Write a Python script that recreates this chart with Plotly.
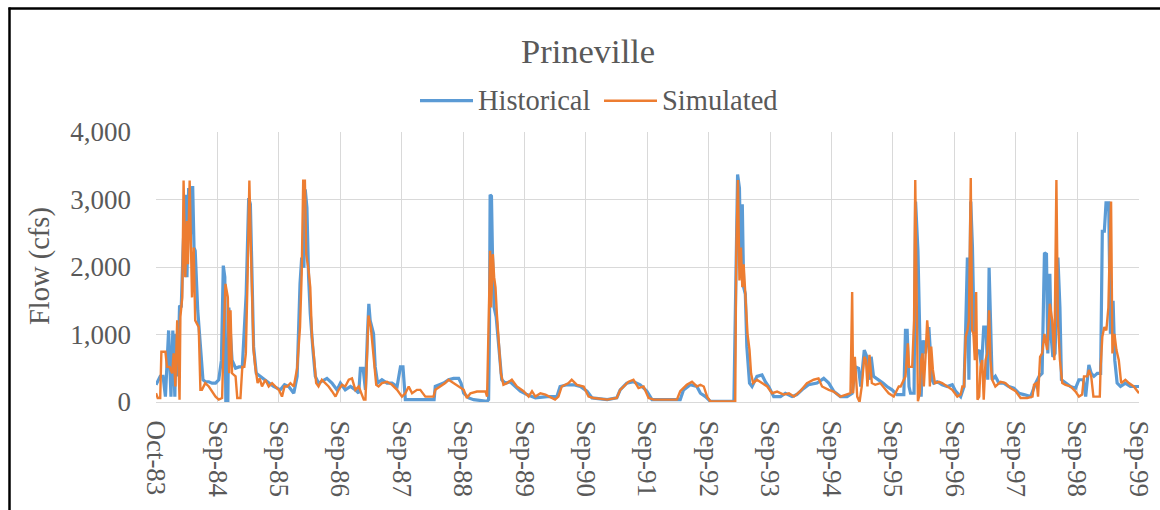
import pandas as pd
import plotly.graph_objects as go

# ---------------------------------------------------------------- data
title_text = "Prineville"
hist_name = "Historical"
sim_name = "Simulated"
y_title = "Flow (cfs)"
y_ticks = [0, 1000, 2000, 3000, 4000]
x_tick_labels = ["Oct-83", "Sep-84", "Sep-85", "Sep-86", "Sep-87", "Sep-88",
                 "Sep-89", "Sep-90", "Sep-91", "Sep-92", "Sep-93", "Sep-94",
                 "Sep-95", "Sep-96", "Sep-97", "Sep-98", "Sep-99"]

hist_dates = [
    "1983-10-01", "1983-10-26", "1983-11-12", "1983-11-26", "1983-12-15", "1983-12-29",
    "1984-01-09", "1984-01-21", "1984-01-28", "1984-02-08", "1984-02-18", "1984-02-28",
    "1984-03-09", "1984-03-23", "1984-04-02", "1984-04-12", "1984-04-22", "1984-05-06",
    "1984-05-14", "1984-05-21", "1984-06-05", "1984-06-21", "1984-07-06", "1984-07-20",
    "1984-08-10", "1984-08-29", "1984-09-19",
    "1984-10-08", "1984-10-24", "1984-11-04", "1984-11-13", "1984-11-19", "1984-12-01",
    "1984-12-07", "1984-12-17", "1984-12-26", "1985-01-16", "1985-02-05", "1985-02-25",
    "1985-03-20", "1985-04-04", "1985-04-14", "1985-04-23", "1985-05-03", "1985-05-19",
    "1985-06-12", "1985-07-02", "1985-08-01", "1985-08-30",
    "1985-10-09", "1985-11-03", "1985-11-28", "1985-12-28", "1986-01-17", "1986-02-03",
    "1986-02-13", "1986-02-26", "1986-03-06", "1986-03-16", "1986-03-26", "1986-04-05",
    "1986-04-21", "1986-05-05", "1986-05-24", "1986-06-23", "1986-07-13", "1986-08-12",
    "1986-09-11",
    "1986-10-01", "1986-10-30", "1986-11-30", "1986-12-29", "1987-01-18", "1987-01-28",
    "1987-02-13", "1987-02-27", "1987-03-11", "1987-03-19", "1987-03-27", "1987-04-16",
    "1987-04-26", "1987-05-10", "1987-06-05", "1987-07-05", "1987-08-04", "1987-09-03",
    "1987-09-23",
    "1987-10-08", "1987-10-22", "1988-04-10", "1988-04-17", "1988-05-16", "1988-06-06",
    "1988-07-05", "1988-08-04", "1988-09-03", "1988-09-17",
    "1988-10-03", "1988-11-02", "1988-12-01", "1989-02-19", "1989-02-28", "1989-03-05",
    "1989-03-09", "1989-03-17", "1989-03-23", "1989-04-02", "1989-04-14", "1989-04-24",
    "1989-05-04", "1989-05-17", "1989-06-07", "1989-07-06", "1989-08-06", "1989-09-05",
    "1989-10-14", "1989-12-03", "1990-02-11", "1990-04-10", "1990-04-29", "1990-06-09",
    "1990-07-18", "1990-08-27",
    "1990-10-06", "1990-11-05", "1991-02-03", "1991-04-01", "1991-04-21", "1991-05-30",
    "1991-07-09", "1991-08-18", "1991-09-27",
    "1991-10-27", "1992-04-12", "1992-05-02", "1992-06-11", "1992-07-20", "1992-08-10",
    "1992-09-09",
    "1992-10-08", "1993-02-25", "1993-03-19", "1993-03-30", "1993-04-08", "1993-04-16",
    "1993-04-24", "1993-05-04", "1993-05-13", "1993-05-29", "1993-06-13", "1993-07-12",
    "1993-08-11", "1993-08-31", "1993-09-20",
    "1993-10-20", "1993-11-29", "1993-12-28", "1994-02-06", "1994-03-06", "1994-04-06",
    "1994-05-15", "1994-07-04", "1994-08-13", "1994-09-12",
    "1994-10-11", "1994-11-20", "1994-12-30", "1995-01-29", "1995-02-18", "1995-03-08",
    "1995-03-21", "1995-04-11", "1995-04-27", "1995-05-12", "1995-05-22", "1995-06-05",
    "1995-07-05", "1995-07-31", "1995-08-24", "1995-09-23",
    "1995-10-22", "1995-11-13", "1995-12-02", "1995-12-12", "1995-12-22", "1996-01-02",
    "1996-01-11", "1996-02-01", "1996-02-10", "1996-02-24", "1996-03-04", "1996-03-14",
    "1996-03-26", "1996-04-09", "1996-04-29", "1996-05-09", "1996-05-18", "1996-05-28",
    "1996-06-17", "1996-07-17", "1996-08-16", "1996-09-15",
    "1996-10-05", "1996-11-04", "1996-11-24", "1996-12-04", "1996-12-14", "1996-12-23",
    "1997-01-03", "1997-01-13", "1997-01-23", "1997-02-08", "1997-02-22", "1997-03-08",
    "1997-03-21", "1997-04-04", "1997-04-14", "1997-04-22", "1997-04-30", "1997-05-10",
    "1997-05-29", "1997-06-19", "1997-07-18", "1997-08-17", "1997-09-16",
    "1997-10-16", "1997-11-15", "1997-12-25", "1998-01-24", "1998-02-13", "1998-03-03",
    "1998-03-17", "1998-03-29", "1998-04-06", "1998-04-18", "1998-04-26", "1998-05-06",
    "1998-05-19", "1998-06-05", "1998-06-17", "1998-06-26", "1998-07-20", "1998-08-19",
    "1998-09-18",
    "1998-10-08", "1998-11-03", "1998-11-17", "1998-11-27", "1998-12-06", "1998-12-20",
    "1999-01-05", "1999-01-25", "1999-02-14", "1999-02-24", "1999-03-08", "1999-03-18",
    "1999-04-03", "1999-04-13", "1999-04-29", "1999-05-09", "1999-05-23", "1999-06-12",
    "1999-07-11", "1999-08-10", "1999-09-30",
]
hist_cfs = [
    255, 380, 380, 80, 1060, 80,
    1060, 80, 1010, 380, 1430, 1400,
    2190, 3070, 1850, 3170, 2440, 3200,
    2290, 2240, 1360, 770, 330, 300,
    300, 280, 280,
    330, 620, 2020, 1850, 0, 0,
    1400, 915, 620, 500, 520, 520,
    1600, 3020, 2930, 1950, 820, 425,
    380, 330, 280, 230,
    180, 255, 230, 130, 380, 1750,
    2140, 1990, 3150, 2880, 1850, 1310,
    770, 380, 280, 330, 350, 280,
    180,
    280, 180, 230, 180, 130, 500,
    500, 180, 1010, 1455, 1210, 1010,
    520, 280, 330, 280, 280, 230,
    520,
    520, 35, 35, 230, 255, 280,
    330, 350, 350, 280,
    130, 60, 35, 10, 35, 1010,
    3070, 3050, 2190, 1400, 1260, 965,
    720, 330, 280, 300, 230, 160,
    110, 60, 80, 80, 230, 255,
    255, 230,
    160, 60, 35, 60, 180, 280,
    300, 255, 160,
    35, 35, 180, 255, 230, 130,
    80,
    10, 10, 3370, 3170, 1850, 2930,
    1700, 1600, 820, 280, 230, 380,
    400, 300, 230,
    80, 80, 130, 80, 110, 180,
    255, 280, 350, 280,
    160, 80, 80, 130, 520, 500,
    230, 770, 670, 330, 670, 380,
    330, 280, 230, 180,
    110, 110, 110, 1060, 1060, 230,
    130, 130, 2970, 2240, 965, 80,
    915, 720, 1110, 720, 330, 280,
    300, 255, 230, 255,
    160, 80, 230, 1110, 2140, 330,
    2970, 2290, 1010, 720, 770, 520,
    1110, 1110, 330, 1990, 1210, 330,
    380, 280, 280, 230, 205,
    130, 110, 80, 280, 380, 425,
    2210, 2190, 720, 1900, 965, 670,
    720, 2140, 1400, 330, 280, 230,
    205,
    330, 330, 80, 330, 550, 425,
    380, 425, 425, 2530, 2530, 2950,
    2950, 1010, 1500, 620, 280, 230,
    280, 230, 230,
]

sim_dates = [
    "1983-10-01", "1983-10-11", "1983-10-26", "1983-11-02", "1983-11-26", "1983-12-05",
    "1983-12-21", "1984-01-05", "1984-01-14", "1984-01-24", "1984-02-04", "1984-02-18",
    "1984-02-23", "1984-03-05", "1984-03-13", "1984-03-23", "1984-04-02", "1984-04-08",
    "1984-04-18", "1984-04-26", "1984-05-02", "1984-05-12", "1984-05-21", "1984-06-11",
    "1984-06-21", "1984-06-30", "1984-07-20", "1984-08-10", "1984-08-29", "1984-09-19",
    "1984-10-08", "1984-10-28", "1984-11-08", "1984-11-17", "1984-12-01", "1984-12-09",
    "1984-12-17", "1984-12-26", "1985-01-16", "1985-01-26", "1985-02-14", "1985-02-25",
    "1985-03-09", "1985-03-18", "1985-03-28", "1985-04-08", "1985-04-17", "1985-05-03",
    "1985-05-13", "1985-05-27", "1985-06-08", "1985-06-22", "1985-07-12", "1985-08-01",
    "1985-08-21", "1985-09-10", "1985-09-30",
    "1985-10-19", "1985-11-03", "1985-11-19", "1985-12-08", "1985-12-28", "1986-01-17",
    "1986-02-03", "1986-02-13", "1986-02-22", "1986-03-04", "1986-03-12", "1986-03-26",
    "1986-04-05", "1986-04-15", "1986-04-25", "1986-05-10", "1986-05-24", "1986-06-13",
    "1986-07-03", "1986-07-23", "1986-08-12", "1986-09-02", "1986-09-21",
    "1986-10-11", "1986-10-30", "1986-11-20", "1986-12-09", "1986-12-29", "1987-01-18",
    "1987-02-07", "1987-02-17", "1987-02-27", "1987-03-07", "1987-03-17", "1987-03-31",
    "1987-04-10", "1987-04-20", "1987-05-02", "1987-05-16", "1987-06-05", "1987-07-05",
    "1987-08-04", "1987-09-03",
    "1987-10-02", "1987-10-22", "1987-11-11", "1987-12-01", "1987-12-30", "1988-01-19",
    "1988-02-18", "1988-04-07", "1988-04-17", "1988-05-16", "1988-06-15", "1988-07-05",
    "1988-08-04", "1988-09-03",
    "1988-10-03", "1988-10-22", "1988-11-12", "1988-12-21", "1989-02-10", "1989-02-19",
    "1989-02-28", "1989-03-09", "1989-03-15", "1989-03-25", "1989-04-02", "1989-04-10",
    "1989-04-18", "1989-04-30", "1989-05-12", "1989-05-27", "1989-06-17", "1989-07-16",
    "1989-08-15", "1989-09-24",
    "1989-10-24", "1989-11-13", "1989-12-03", "1990-01-02", "1990-02-01", "1990-03-30",
    "1990-04-19", "1990-05-09", "1990-06-18", "1990-07-07", "1990-08-07", "1990-09-16",
    "1990-10-15", "1990-11-14", "1991-02-03", "1991-04-01", "1991-04-21", "1991-06-10",
    "1991-07-09", "1991-08-08", "1991-09-07",
    "1991-10-07", "1991-11-06", "1992-03-23", "1992-04-12", "1992-05-21", "1992-06-21",
    "1992-07-20", "1992-08-10", "1992-08-30", "1992-09-19",
    "1992-10-08", "1993-03-05", "1993-03-11", "1993-03-21", "1993-03-30", "1993-04-08",
    "1993-04-16", "1993-04-24", "1993-05-04", "1993-05-17", "1993-05-29", "1993-06-07",
    "1993-06-19", "1993-07-12", "1993-08-11", "1993-09-11",
    "1993-10-10", "1993-11-09", "1993-12-18", "1994-01-18", "1994-02-17", "1994-03-26",
    "1994-05-05", "1994-06-14", "1994-07-13", "1994-08-03", "1994-09-12",
    "1994-10-11", "1994-11-20", "1994-12-30", "1995-01-19", "1995-01-29", "1995-02-04",
    "1995-02-14", "1995-02-28", "1995-03-14", "1995-03-27", "1995-04-11", "1995-04-21",
    "1995-04-30", "1995-05-12", "1995-05-26", "1995-06-15", "1995-07-15", "1995-08-14",
    "1995-09-03",
    "1995-10-03", "1995-11-02", "1995-11-13", "1995-12-02", "1995-12-12", "1995-12-26",
    "1996-01-02", "1996-01-21", "1996-02-01", "1996-02-08", "1996-02-16", "1996-02-24",
    "1996-03-06", "1996-03-14", "1996-03-22", "1996-03-30", "1996-04-09", "1996-04-19",
    "1996-04-27", "1996-05-05", "1996-05-13", "1996-05-23", "1996-06-04", "1996-06-28",
    "1996-07-17", "1996-08-16", "1996-09-15",
    "1996-10-15", "1996-11-04", "1996-11-14", "1996-11-24", "1996-12-04", "1996-12-14",
    "1996-12-23", "1997-01-03", "1997-01-11", "1997-01-19", "1997-01-27", "1997-02-04",
    "1997-02-12", "1997-02-22", "1997-03-02", "1997-03-12", "1997-03-21", "1997-04-01",
    "1997-04-11", "1997-04-22", "1997-04-30", "1997-05-10", "1997-05-29", "1997-06-29",
    "1997-07-28", "1997-08-27", "1997-09-27",
    "1997-10-26", "1997-12-05", "1998-01-05", "1998-01-14", "1998-01-30", "1998-02-07",
    "1998-02-19", "1998-03-03", "1998-03-17", "1998-04-02", "1998-04-18", "1998-05-02",
    "1998-05-15", "1998-05-27", "1998-06-05", "1998-06-17", "1998-07-01", "1998-07-20",
    "1998-08-19", "1998-09-18",
    "1998-10-08", "1998-10-27", "1998-11-07", "1998-11-27", "1998-12-06", "1998-12-20",
    "1999-01-02", "1999-02-09", "1999-02-14", "1999-02-24", "1999-03-08", "1999-03-20",
    "1999-04-01", "1999-04-09", "1999-04-17", "1999-04-25", "1999-05-07", "1999-05-19",
    "1999-06-02", "1999-06-16", "1999-07-11", "1999-08-01", "1999-08-30", "1999-09-30",
]
sim_cfs = [
    130, 60, 60, 745, 745, 520,
    520, 425, 720, 230, 1210, 35,
    1260, 1550, 3280, 1850, 2680, 2040,
    3280, 2090, 1550, 2290, 1210, 1110,
    180, 180, 280, 230, 160, 80,
    35, 60, 1110, 1750, 1550, 425,
    1360, 425, 380, 60, 60, 520,
    520, 720, 1800, 3280, 2290, 770,
    520, 280, 350, 230, 330, 230,
    280, 230, 180,
    80, 230, 230, 280, 230, 500,
    1110, 1900, 3280, 3280, 2190, 1950,
    1700, 965, 720, 280, 230, 330,
    280, 230, 160, 80, 180,
    255, 230, 330, 350, 180, 230,
    80, 35, 35, 720, 1280, 1110,
    820, 520, 255, 230, 280, 300,
    255, 180,
    80, 130, 230, 130, 180, 180,
    80, 80, 180, 230, 280, 330,
    280, 230,
    180, 60, 130, 155, 155, 80,
    1500, 2240, 1400, 2190, 1850, 1700,
    1310, 915, 425, 255, 280, 330,
    230, 160,
    80, 160, 80, 130, 110, 35,
    80, 230, 280, 330, 255, 230,
    80, 60, 35, 60, 180, 300,
    330, 205, 230,
    60, 35, 35, 160, 255, 300,
    230, 255, 230, 80,
    10, 10, 2190, 3290, 1800, 2290,
    1700, 2040, 1600, 1010, 770, 425,
    280, 330, 280, 230,
    130, 155, 110, 130, 80, 160,
    280, 330, 350, 230, 180,
    155, 80, 110, 130, 1630, 130,
    670, 80, 0, 230, 670, 620,
    230, 700, 280, 255, 280, 180,
    130,
    80, 230, 230, 330, 380, 870,
    520, 520, 1210, 3290, 1210, 10,
    130, 620, 720, 230, 670, 1210,
    965, 230, 820, 475, 280, 300,
    280, 230, 180,
    80, 110, 230, 230, 965, 1060,
    1210, 3320, 1060, 1010, 620, 1630,
    35, 80, 520, 620, 35, 620,
    720, 1360, 620, 330, 230, 300,
    280, 205, 160,
    60, 60, 80, 255, 280, 80,
    670, 720, 1010, 770, 1455, 1210,
    620, 3290, 1210, 620, 280, 255,
    230, 155,
    80, 110, 380, 380, 475, 380,
    80, 80, 520, 965, 1110, 1060,
    1400, 2290, 2970, 720, 1010, 770,
    620, 280, 330, 280, 230, 130,
]

# ---------------------------------------------------------------- styling
BLUE = "#5B9BD5"
ORANGE = "#ED7D31"
TEXT = "#595959"
GRID = "#D9D9D9"
FONT = "Liberation Serif"

W, H = 1160, 510
L, R, T, B = 156, 21, 132, 108


def px(x):
    """Horizontal pixel position -> paper fraction."""
    return (x - L) / (W - L - R)


def py(y):
    """Vertical pixel position (from top) -> paper fraction."""
    return 1 - (y - T) / (H - T - B)


# the category axis labels every 365th day of the daily record
start = pd.Timestamp(hist_dates[0])
tick_vals = [start + pd.Timedelta(days=365 * i) for i in range(len(x_tick_labels))]

fig = go.Figure()
fig.add_trace(go.Scatter(x=pd.to_datetime(hist_dates), y=hist_cfs, mode="lines",
                         name=hist_name, line=dict(color=BLUE, width=3.2)))
fig.add_trace(go.Scatter(x=pd.to_datetime(sim_dates), y=sim_cfs, mode="lines",
                         name=sim_name, line=dict(color=ORANGE, width=2.4)))

fig.update_layout(
    width=W, height=H,
    margin=dict(l=L, r=R, t=T, b=B, autoexpand=False),
    plot_bgcolor="white", paper_bgcolor="white",
    showlegend=False,
    font=dict(family=FONT, color=TEXT),
)
fig.update_xaxes(
    type="date", range=[start, pd.Timestamp(sim_dates[-1])],
    tickmode="array", tickvals=tick_vals, ticktext=x_tick_labels,
    tickangle=90, tickfont=dict(size=27, color=TEXT, family=FONT),
    showgrid=True, gridcolor=GRID, gridwidth=1,
    showline=True, linecolor=GRID, linewidth=1,
    ticks="", ticklabelstandoff=12, zeroline=False,
)
fig.update_yaxes(
    range=[0, 4000], tickmode="array", tickvals=y_ticks, tickformat=",d",
    tickfont=dict(size=27, color=TEXT, family=FONT),
    showgrid=True, gridcolor=GRID, gridwidth=1,
    showline=False, zeroline=False, ticks="", ticklabelstandoff=24,
)

# outer chart frame (left and top edges)
frame = dict(color="black", width=2.5)
fig.add_shape(type="line", xref="paper", yref="paper",
              x0=px(9.5), x1=px(9.5), y0=py(7.5), y1=py(530), line=frame)
fig.add_shape(type="line", xref="paper", yref="paper",
              x0=px(8.5), x1=px(1180), y0=py(8.5), y1=py(8.5), line=frame)

# legend drawn as line samples with labels
leg_y = 100.7
for x0, x1, color, width in [(420, 473, BLUE, 3.2), (604, 657, ORANGE, 2.4)]:
    fig.add_shape(type="line", xref="paper", yref="paper",
                  x0=px(x0), x1=px(x1), y0=py(leg_y), y1=py(leg_y),
                  line=dict(color=color, width=width))
for x0, label in [(476, hist_name), (660, sim_name)]:
    fig.add_annotation(text=label, xref="paper", yref="paper", x=px(x0), y=py(leg_y),
                       xanchor="left", yanchor="middle", showarrow=False,
                       font=dict(size=28.5, color=TEXT, family=FONT))

fig.add_annotation(text=title_text, xref="paper", yref="paper", x=px(588), y=py(51),
                   xanchor="center", yanchor="middle", showarrow=False,
                   font=dict(size=34.5, color=TEXT, family=FONT))
fig.add_annotation(text=y_title, xref="paper", yref="paper", x=px(40), y=py(266),
                   xanchor="center", yanchor="middle", textangle=-90, showarrow=False,
                   font=dict(size=28.5, color=TEXT, family=FONT))

fig.write_html("out.html")
